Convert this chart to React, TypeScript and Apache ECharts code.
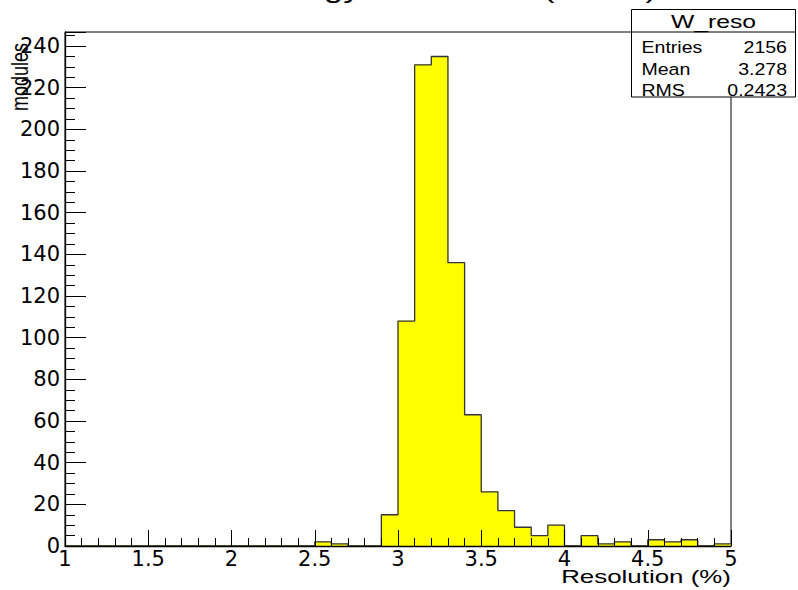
import React, { useEffect, useRef } from "react";
import * as echarts from "echarts";

// Histogram W_reso: 40 bins of width 0.1 between 1 and 5
const BIN_START = 1.0;
const BIN_WIDTH = 0.1;
const counts = [
  0, 0, 0, 0, 0, 0, 0, 0, 0, 0,
  0, 0, 0, 0, 0, 2, 1, 0, 0, 15,
  108, 231, 235, 136, 63, 26, 17, 9, 5, 10,
  0, 5, 1, 2, 0, 3, 2, 3, 0, 1,
];
const X_MIN = 1;
const X_MAX = 5;
const Y_MAX = 246.75;

const TITLE = "Module Energy Resolution (Wafer)";
const X_TITLE = "Resolution (%)";
const Y_TITLE = "modules";
const STATS_NAME = "W_reso";
const STATS_LABELS = ["Entries", "Mean", "RMS"];
const STATS_VALUES = ["2156", "3.278", "0.2423"];

const SANS = "Liberation Sans, Arial, Helvetica, sans-serif";

export default function App() {
  const ref = useRef<HTMLDivElement>(null);
  useEffect(() => {
    if (!ref.current) return;
    const chart = echarts.init(ref.current, undefined, { renderer: "svg" });

    const bins = counts.map((c, i) => {
      const lo = +(BIN_START + i * BIN_WIDTH).toFixed(2);
      const hi = +(BIN_START + (i + 1) * BIN_WIDTH).toFixed(2);
      return [lo, hi, c];
    });
    const outline: number[][] = bins.map((b) => [b[0], b[2]]);
    outline.push([bins[bins.length - 1][1], bins[bins.length - 1][2]]);

    const statRowY = [47, 69, 89.5];

    chart.setOption({
      animation: false,
      backgroundColor: "#fff",
      grid: {
        left: 65,
        right: 67,
        top: 32,
        bottom: 44,
        show: true,
        borderColor: "#000",
        borderWidth: 1,
        backgroundColor: "transparent",
      },
      xAxis: {
        type: "value",
        min: X_MIN,
        max: X_MAX,
        interval: 0.5,
        z: 10,
        axisLine: { show: true, lineStyle: { color: "#000", width: 1.3 } },
        axisTick: { show: true, inside: true, length: 16, lineStyle: { color: "#000", width: 1 } },
        minorTick: { show: true, splitNumber: 5, length: 8, lineStyle: { color: "#000", width: 1 } },
        axisLabel: { color: "#000", fontFamily: "DejaVu Sans", fontSize: 21, margin: 2 },
        splitLine: { show: false },
        minorSplitLine: { show: false },
      },
      yAxis: [
        {
          type: "value",
          min: 0,
          max: Y_MAX,
          interval: 5,
          position: "left",
          z: 10,
          axisLine: { show: true, lineStyle: { color: "#000", width: 1.3 } },
          axisTick: { show: true, inside: true, length: 10, lineStyle: { color: "#000", width: 1 } },
          axisLabel: {
            color: "#000",
            fontFamily: "DejaVu Sans",
            fontSize: 21,
            margin: 5,
            showMaxLabel: false,
            formatter: (v: number) => (Math.abs(v % 20) < 1e-9 ? String(v) : ""),
          },
          splitLine: { show: false },
        },
        {
          type: "value",
          min: 0,
          max: Y_MAX,
          interval: 20,
          position: "left",
          z: 10,
          axisLine: { show: false },
          axisTick: { show: true, inside: true, length: 21, lineStyle: { color: "#000", width: 1 } },
          axisLabel: { show: false },
          splitLine: { show: false },
        },
      ],
      series: [
        {
          type: "custom",
          yAxisIndex: 0,
          z: 2,
          data: bins,
          encode: { x: [0, 1], y: 2 },
          renderItem: (params: any, api: any) => {
            const p0 = api.coord([api.value(0), api.value(2)]);
            const p1 = api.coord([api.value(1), 0]);
            return {
              type: "rect",
              shape: { x: p0[0], y: p0[1], width: p1[0] - p0[0], height: p1[1] - p0[1] },
              style: { fill: "#ffff00", stroke: "#ffff00", lineWidth: 1 },
            };
          },
        },
        {
          type: "line",
          yAxisIndex: 0,
          z: 3,
          step: "end",
          data: outline,
          symbol: "none",
          lineStyle: { color: "#333344", width: 1.3 },
        },
      ],
      graphic: [
        {
          type: "text",
          x: 128,
          y: -11,
          scaleX: 1.33,
          z: 50,
          style: {
            text: TITLE,
            fontFamily: SANS,
            fontSize: 26,
            fill: "#000",
            align: "left",
            verticalAlign: "middle",
          },
        },
        {
          type: "text",
          x: 731,
          y: 577.3,
          scaleX: 1.44,
          z: 50,
          style: {
            text: X_TITLE,
            fontFamily: SANS,
            fontSize: 18,
            fill: "#000",
            align: "right",
            verticalAlign: "middle",
          },
        },
        {
          type: "text",
          x: 20,
          y: 43,
          rotation: Math.PI / 2,
          scaleY: 1.35,
          z: 50,
          style: {
            text: Y_TITLE,
            fontFamily: SANS,
            fontSize: 18,
            fill: "#000",
            align: "right",
            verticalAlign: "middle",
          },
        },
        {
          type: "rect",
          z: 60,
          shape: { x: 631.5, y: 9.5, width: 164, height: 87.5 },
          style: { fill: "#fff", stroke: "#000", lineWidth: 1 },
        },
        {
          type: "line",
          z: 61,
          shape: { x1: 631.5, y1: 32, x2: 795.5, y2: 32 },
          style: { stroke: "#000", lineWidth: 1 },
        },
        {
          type: "text",
          x: 713.5,
          y: 21.4,
          scaleX: 1.3,
          z: 62,
          style: {
            text: STATS_NAME,
            fontFamily: SANS,
            fontSize: 19,
            fill: "#000",
            align: "center",
            verticalAlign: "middle",
          },
        },
        ...STATS_LABELS.map((t, i) => ({
          type: "text",
          x: 641.5,
          y: statRowY[i],
          scaleX: 1.15,
          z: 62,
          style: {
            text: t,
            fontFamily: SANS,
            fontSize: 17,
            fill: "#000",
            align: "left",
            verticalAlign: "middle",
          },
        })),
        ...STATS_VALUES.map((t, i) => ({
          type: "text",
          x: 787,
          y: statRowY[i],
          scaleX: 1.15,
          z: 62,
          style: {
            text: t,
            fontFamily: SANS,
            fontSize: 17,
            fill: "#000",
            align: "right",
            verticalAlign: "middle",
          },
        })),
      ],
    });
    return () => chart.dispose();
  }, []);

  return (
    <div
      ref={ref}
      style={{ width: 798, height: 590, position: "absolute", left: 0, top: 0 }}
    />
  );
}
